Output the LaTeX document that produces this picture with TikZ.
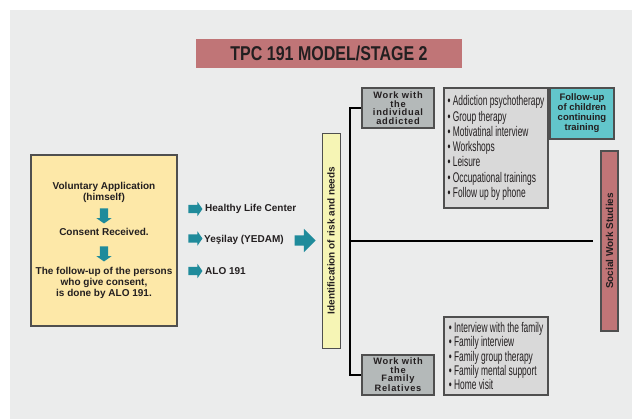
\documentclass[tikz,border=0pt]{standalone}
\usepackage{fontspec}
\setmainfont{Liberation Sans}
\newfontfamily\titlefont[FakeStretch=0.8]{Liberation Sans}
\newfontfamily\listfont[FakeStretch=0.6]{Liberation Sans}
\usepackage{xcolor}
\usepackage{tikz}
\usetikzlibrary{shapes.arrows}

\definecolor{bgcol}{HTML}{EBECEC}
\definecolor{ink}{HTML}{231F20}
\definecolor{rose}{HTML}{C07577}
\definecolor{cream}{HTML}{FDE8A8}
\definecolor{paleyellow}{HTML}{F6F5B5}
\definecolor{slate}{HTML}{B4B9B9}
\definecolor{listgray}{HTML}{D9D9D9}
\definecolor{aqua}{HTML}{62C6CB}
\definecolor{petrol}{HTML}{1F8B9B}
\definecolor{edge}{HTML}{4F4F4F}

\begin{document}
\begin{tikzpicture}[
    x=1pt, y=-1pt,
    txt/.style={text=ink, font=\bfseries\fontsize{10}{11}\selectfont,
                align=center, inner sep=0pt},
    workbox/.style={draw=edge, line width=1.2pt, fill=slate, text=ink,
                    minimum width=72pt, minimum height=40pt, inner sep=0pt,
                    align=center,
                    font=\bfseries\addfontfeature{LetterSpace=8}\fontsize{9.3}{8.5}\selectfont},
    listbox/.style={draw=edge, line width=1.2pt, fill=listgray, text=ink,
                    minimum width=104pt, inner sep=3pt, align=left},
    sidebar/.style={draw=edge, rotate=90, inner sep=0pt, text=ink,
                    font=\bfseries\fontsize{10}{11}\selectfont},
    smallarrow/.style={single arrow, fill=petrol, inner xsep=0pt,
                       inner ysep=4pt, minimum height=14pt,
                       single arrow head extend=3pt, single arrow tip angle=110},
    bigarrow/.style={single arrow, fill=petrol, inner xsep=0pt,
                     inner ysep=5pt, minimum height=21pt,
                     single arrow head extend=6.5pt}
  ]
  \useasboundingbox (0,0) rectangle (632,419);
  \fill[bgcol] (10,10) rectangle (632,419);

  % Title
  \node[fill=rose, minimum width=266pt, minimum height=29pt, text=ink,
        font=\titlefont\bfseries\fontsize{20}{22}\selectfont]
    (title) at (329,53.5) {TPC 191 MODEL/STAGE 2};

  % Application box
  \node[draw=edge, line width=1.2pt, fill=cream,
        minimum width=146pt, minimum height=171pt]
    (apply) at (104,240.5) {};
  \node[txt] (vol) at (104,192) {Voluntary Application\\(himself)};
  \node[smallarrow, rotate=-90, minimum height=15pt,
        single arrow head extend=3.5pt]
    (down1) at (104,214.5) {};
  \node[txt] (consent) at (104,232) {Consent Received.};
  \node[smallarrow, rotate=-90, minimum height=15pt,
        single arrow head extend=3.5pt]
    (down2) at (104,252.5) {};
  \node[txt] (followup) at (104,283)
    {The follow-up of the persons\\who give consent,\\is done by ALO 191.};

  % Referral centres
  \node[smallarrow] (a1) at (194,209) {};
  \node[smallarrow] (a2) at (194,238.5) {};
  \node[smallarrow] (a3) at (194,271) {};
  \node[txt, anchor=west] (hlc) at (205,209) {Healthy Life Center};
  \node[txt, anchor=west] (yedam) at (204,239.5) {Yeşilay (YEDAM)};
  \node[txt, anchor=west] (alo) at (205,271) {ALO 191};
  \node[bigarrow] (bigarr) at (302.5,240.5) {};

  % Identification and social work
  \node[sidebar, fill=paleyellow, line width=0.8pt,
        minimum width=215pt, minimum height=18pt]
    (ident) at (331,240.5) {Identification of risk and needs};
  \node[sidebar, fill=rose, line width=1.2pt,
        minimum width=180pt, minimum height=17pt]
    (social) at (609.5,241) {Social Work Studies};

  % Work branches
  \node[workbox] (indiv) at (398,108) {Work with\\the\\individual\\addicted};
  \node[workbox] (family) at (398,375) {Work with\\the\\Family\\Relatives};

  \node[listbox, minimum height=120pt,
        font=\listfont\fontsize{14}{15.3}\selectfont]
    (indivlist) at (496,148)
    {• Addiction psychotherapy\\• Group therapy\\• Motivatinal interview\\%
     • Workshops\\• Leisure\\• Occupational trainings\\• Follow up by phone};
  \node[listbox, minimum height=78pt,
        font=\listfont\fontsize{14}{14.3}\selectfont]
    (familylist) at (496,356)
    {• Interview with the family\\• Family interview\\• Family group therapy\\%
     • Family mental support\\• Home visit};

  \node[draw=edge, line width=1.2pt, fill=aqua, text=ink, inner sep=0pt,
        minimum width=64pt, minimum height=51pt, align=center,
        font=\bfseries\fontsize{9.5}{10}\selectfont]
    (children) at (582,113.5) {Follow-up\\of children\\continuing\\training};

  % connectors
  \draw[line width=2pt] (indiv.west) -- ++(-11,0) |- (family.west);
  \coordinate (spmid) at (351,241);
  \draw[line width=1.5pt, shorten >=8pt]
    (spmid) -- ([xshift=-8.5pt]social.center);
\end{tikzpicture}
\end{document}
